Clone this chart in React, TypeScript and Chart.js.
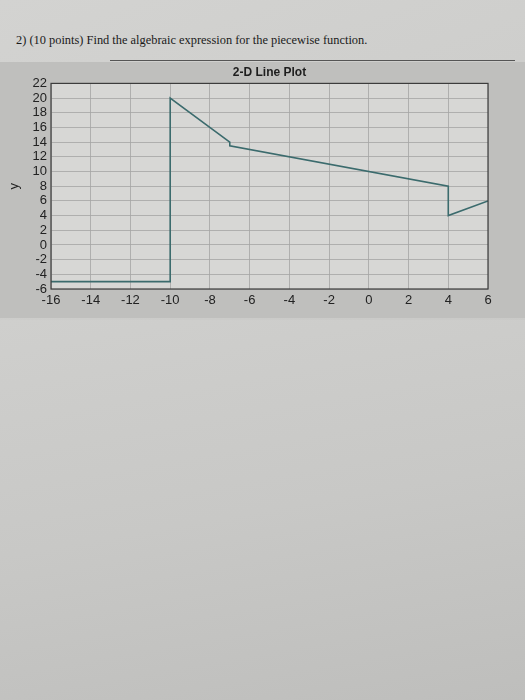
import React, { useEffect, useRef } from "react";
import { Chart, registerables } from "chart.js";

Chart.register(...registerables);

const QUESTION = "2) (10 points) Find the algebraic expression for the piecewise function.";
const CHART_TITLE = "2-D Line Plot";
const X_LABEL = "x";
const Y_LABEL = "y";

// piecewise function vertices (x, y)
const xValues = [-16, -10, -10, -7, -7, 4, 4, 6];
const yValues = [-5, -5, 20, 14, 13.5, 8, 4, 6];

const X_MIN = -16;
const X_MAX = 6;
const Y_MIN = -6;
const Y_MAX = 22;
const STEP = 2;

const borderBox = {
  id: "borderBox",
  afterDraw(chart: any) {
    const { ctx, chartArea } = chart;
    ctx.save();
    ctx.strokeStyle = "#3c3c3c";
    ctx.lineWidth = 1.2;
    ctx.strokeRect(chartArea.left, chartArea.top, chartArea.right - chartArea.left, chartArea.bottom - chartArea.top);
    ctx.restore();
  },
};

const plotBg = {
  id: "plotBg",
  beforeDraw(chart: any) {
    const { ctx, chartArea } = chart;
    ctx.save();
    ctx.fillStyle = "#d7d7d5";
    ctx.fillRect(chartArea.left, chartArea.top, chartArea.right - chartArea.left, chartArea.bottom - chartArea.top);
    ctx.restore();
  },
};

const FONT = "Liberation Sans, Arial, sans-serif";

export default function App() {
  const ref = useRef<HTMLCanvasElement | null>(null);

  useEffect(() => {
    if (!ref.current) return;
    const data = xValues.map((x, i) => ({ x, y: yValues[i] }));
    const chart = new Chart(ref.current, {
      type: "line",
      data: {
        datasets: [
          {
            data,
            borderColor: "#3b6b6d",
            borderWidth: 1.6,
            pointRadius: 0,
            tension: 0,
            fill: false,
          },
        ],
      },
      options: {
        animation: false,
        responsive: false,
        maintainAspectRatio: false,
        layout: { padding: { left: 7, right: 12, top: 0, bottom: 0 } },
        plugins: {
          legend: { display: false },
          tooltip: { enabled: false },
          title: {
            display: true,
            text: CHART_TITLE,
            fullSize: false,
            color: "#1e1e1e",
            font: { family: FONT, size: 12, weight: "bold" },
            padding: { top: 3, bottom: 4 },
          },
        },
        scales: {
          x: {
            type: "linear",
            min: X_MIN,
            max: X_MAX,
            ticks: {
              stepSize: STEP,
              autoSkip: false,
              maxRotation: 0,
              color: "#222",
              font: { family: FONT, size: 13 },
              padding: 4,
            },
            grid: {
              color: "#a5a5a3",
              lineWidth: 0.8,
              drawTicks: false,
            },
            border: { display: false },
            title: {
              display: true,
              text: X_LABEL,
              color: "#222",
              font: { family: FONT, size: 12 },
              padding: { top: 5, bottom: 2 },
            },
          },
          y: {
            type: "linear",
            min: Y_MIN,
            max: Y_MAX,
            ticks: {
              stepSize: STEP,
              autoSkip: false,
              color: "#222",
              font: { family: FONT, size: 13 },
              padding: 4,
            },
            grid: {
              color: "#a5a5a3",
              lineWidth: 0.8,
              drawTicks: false,
            },
            border: { display: false },
            title: {
              display: true,
              text: Y_LABEL,
              color: "#222",
              font: { family: FONT, size: 13 },
              padding: { top: 0, bottom: 4 },
            },
            afterFit: (scale: any) => {
              scale.width = 44;
            },
          },
        },
      },
      plugins: [plotBg, borderBox],
    });
    return () => chart.destroy();
  }, []);

  return (
    <div
      style={{
        position: "fixed",
        left: 0,
        top: 0,
        width: 525,
        height: 700,
        overflow: "hidden",
        background: "linear-gradient(160deg, #d3d3d1 0%, #cbcbc9 45%, #c4c4c2 100%)",
      }}
    >
      <div
        style={{
          position: "absolute",
          left: 16,
          top: 33,
          fontFamily: "Liberation Serif, Times New Roman, serif",
          fontSize: 12.4,
          color: "#1a1a1a",
          whiteSpace: "nowrap",
        }}
      >
        {QUESTION}
      </div>
      <div
        style={{
          position: "absolute",
          left: 110,
          top: 60,
          width: 405,
          height: 1,
          background: "#555",
        }}
      />
      <div
        style={{
          position: "absolute",
          left: 0,
          top: 62,
          width: 525,
          height: 256,
          background: "#bfbfbd",
        }}
      />
      <canvas
        ref={ref}
        width={500}
        height={272}
        style={{ position: "absolute", left: 0, top: 62, width: 500, height: 272 }}
      />
      <div
        style={{
          position: "absolute",
          left: 0,
          top: 320,
          width: 525,
          height: 380,
          background: "linear-gradient(170deg, #cfcfcd 0%, #c8c8c6 50%, #bebebc 100%)",
        }}
      />
    </div>
  );
}
